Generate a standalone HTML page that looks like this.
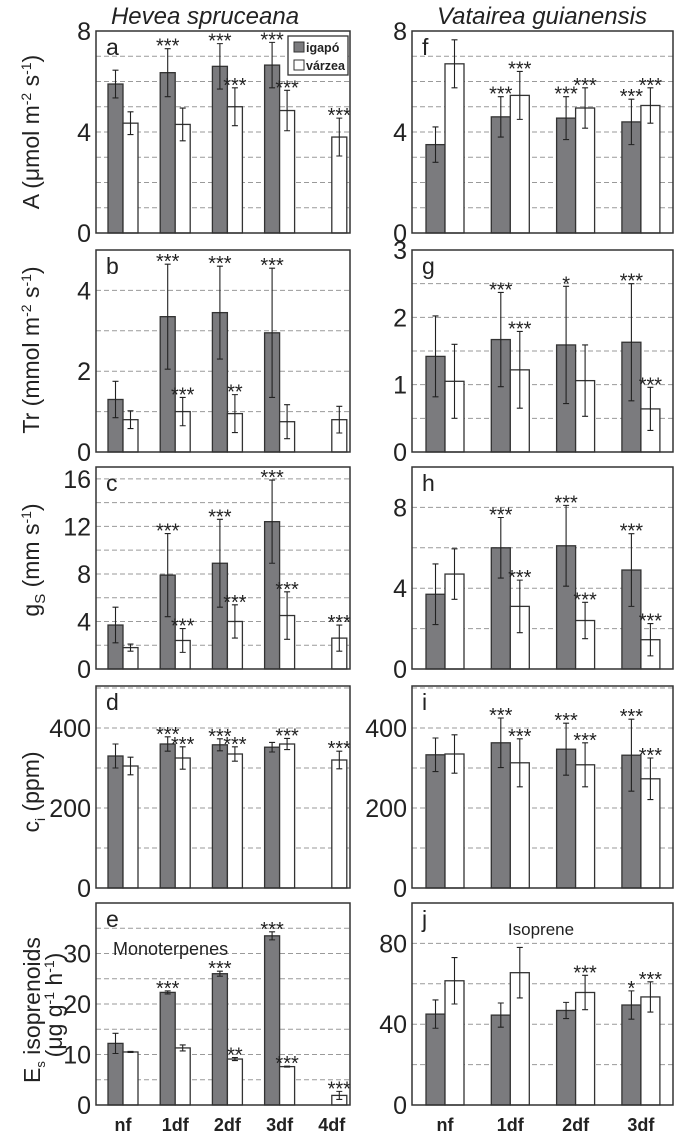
<!DOCTYPE html>
<html><head><meta charset="utf-8"><style>
html,body{margin:0;padding:0;background:#fff;}
svg{display:block;font-family:"Liberation Sans",sans-serif;}
</style></head><body>
<svg id="chart" width="685" height="1141" viewBox="0 0 685 1141" xmlns="http://www.w3.org/2000/svg">
<text x="205" y="24" font-size="24" font-style="italic" text-anchor="middle" fill="#222">Hevea spruceana</text>
<text x="542" y="24" font-size="24" font-style="italic" text-anchor="middle" fill="#222">Vatairea guianensis</text>
</svg>
<script>
// ---- data ----
const categoriesLeft = ["nf","1df","2df","3df","4df"];
const categoriesRight = ["nf","1df","2df","3df"];
const aIgapo=[5.9,6.35,6.6,6.65,null], aIgapoErr=[0.55,0.95,0.9,0.9,null];
const aVarzea=[4.35,4.3,5.0,4.85,3.8], aVarzeaErr=[0.45,0.65,0.75,0.8,0.75];
const bIgapo=[1.3,3.35,3.45,2.95,null], bIgapoErr=[0.45,1.3,1.15,1.6,null];
const bVarzea=[0.8,1.0,0.95,0.75,0.8], bVarzeaErr=[0.22,0.35,0.47,0.42,0.33];
const cIgapo=[3.7,7.9,8.9,12.4,null], cIgapoErr=[1.5,3.5,3.7,3.5,null];
const cVarzea=[1.8,2.4,4.0,4.5,2.6], cVarzeaErr=[0.3,1.0,1.4,2.0,1.1];
const dIgapo=[330,360,358,352,null], dIgapoErr=[30,18,15,12,null];
const dVarzea=[305,325,335,360,320], dVarzeaErr=[22,28,18,14,22];
const eIgapo=[12.2,22.3,26,33.5,null], eIgapoErr=[2.0,0.3,0.5,0.8,null];
const eVarzea=[10.5,11.3,9.1,7.6,1.9], eVarzeaErr=[0.1,0.6,0.3,0.1,0.8];
const fIgapo=[3.5,4.6,4.55,4.4], fIgapoErr=[0.7,0.8,0.85,0.9];
const fVarzea=[6.7,5.45,4.95,5.05], fVarzeaErr=[0.95,0.95,0.8,0.7];
const gIgapo=[1.42,1.67,1.59,1.63], gIgapoErr=[0.6,0.7,0.87,0.87];
const gVarzea=[1.05,1.22,1.06,0.64], gVarzeaErr=[0.55,0.57,0.53,0.32];
const hIgapo=[3.7,6.0,6.1,4.9], hIgapoErr=[1.5,1.5,2.0,1.8];
const hVarzea=[4.7,3.1,2.4,1.45], hVarzeaErr=[1.25,1.3,0.9,0.8];
const iIgapo=[333,363,347,332], iIgapoErr=[42,62,65,90];
const iVarzea=[335,313,308,273], iVarzeaErr=[48,60,55,52];
const jIgapo=[45,44.5,46.8,49.5], jIgapoErr=[7,6,4,7];
const jVarzea=[61.5,65.5,55.7,53.5], jVarzeaErr=[11.5,12.5,8.5,7.5];
const aStarsI=["","***","***","***",""], aStarsV=["","","***","***","***"];
const bStarsI=["","***","***","***",""], bStarsV=["","***","**","",""];
const cStarsI=["","***","***","***",""], cStarsV=["","***","***","***","***"];
const dStarsI=["","***","***","",""], dStarsV=["","***","***","***","***"];
const eStarsI=["","***","***","***",""], eStarsV=["","","**","***","***"];
const fStarsI=["","***","***","***"], fStarsV=["","***","***","***"];
const gStarsI=["","***","*","***"], gStarsV=["","***","","***"];
const hStarsI=["","***","***","***"], hStarsV=["","***","***","***"];
const iStarsI=["","***","***","***"], iStarsV=["","***","***","***"];
const jStarsI=["","","","*"], jStarsV=["","","***","***"];
const aTicks=[0,4,8], bTicks=[0,2,4], cTicks=[0,4,8,12,16], dTicks=[0,200,400], eTicks=[0,10,20,30];
const fTicks=[0,4,8], gTicks=[0,1,2,3], hTicks=[0,4,8], iTicks=[0,200,400], jTicks=[0,40,80];

const NS="http://www.w3.org/2000/svg";
const svg=document.getElementById('chart');
function mk(tag,attrs,parent){const e=document.createElementNS(NS,tag);for(const k in attrs)e.setAttribute(k,attrs[k]);(parent||svg).appendChild(e);return e;}

const rowsTop=[31,250,467,686,903], H=202;
function panel(o){
  const g=mk('g',{});
  
  
  const y=v=>o.top+H-(v/o.max)*H;
  for(let v=o.grid;v<o.max-1e-9;v+=o.grid){
    const gl=mk('line',{x1:o.x0,x2:o.x1,y1:y(v),y2:y(v),stroke:'#9a9a9a','stroke-width':1,'stroke-dasharray':'5,3'},g);
    
    
  }
  o.ticks.forEach(t=>{
    const tx=mk('text',{x:o.x0-5,y:y(t)+9,'font-size':25,'text-anchor':'end',fill:'#222'},g);
    tx.textContent=t;
    
    
  });
  const n=o.cats.length;
  function bar(vals,errs,stars,i,left,fill,name){
    const v=vals[i]; if(v==null) return;
    const c=o.cx0+i*o.step;
    const bx=left?c-o.bw:c;
    const r=mk('rect',{x:bx,y:y(v),width:o.bw,height:o.top+H-y(v),fill:fill,stroke:'#333','stroke-width':1.3},g);
    
    
    const mx=bx+o.bw/2, e=errs[i];
    const eb=mk('path',{d:`M${mx},${y(v-e)}V${y(v+e)}M${mx-3},${y(v-e)}H${mx+3}M${mx-3},${y(v+e)}H${mx+3}`,stroke:'#222','stroke-width':1.1,fill:'none'},g);
    
    
    if(stars[i]){
      const s=mk('text',{x:mx,y:y(v+e)+4,'font-size':20,'text-anchor':'middle',fill:'#222'},g);
      s.textContent=stars[i];
      
      
    }
  }
  for(let i=0;i<n;i++){bar(o.ig,o.igE,o.sI,i,true,'#7b7b7e','bar-igapo');bar(o.va,o.vaE,o.sV,i,false,'#fff','bar-varzea');}
  const fr=mk('rect',{x:o.x0,y:o.top,width:o.x1-o.x0,height:H,fill:'none',stroke:'#333','stroke-width':1.5},g);
  
  
  const lt=mk('text',{x:o.x0+10,y:o.top+24,'font-size':23,fill:'#222'},g);
  lt.textContent=o.letter;
  
  
}
const L={x0:96,x1:350,cx0:123,step:52.2,bw:15,cats:categoriesLeft};
const R={x0:412,x1:673,cx0:445,step:65.3,bw:19,cats:categoriesRight};
panel({...L,top:rowsTop[0],max:8,grid:1,ticks:aTicks,letter:'a',ig:aIgapo,igE:aIgapoErr,va:aVarzea,vaE:aVarzeaErr,sI:aStarsI,sV:aStarsV});
panel({...L,top:rowsTop[1],max:5,grid:1,ticks:bTicks,letter:'b',ig:bIgapo,igE:bIgapoErr,va:bVarzea,vaE:bVarzeaErr,sI:bStarsI,sV:bStarsV});
panel({...L,top:rowsTop[2],max:17,grid:2,ticks:cTicks,letter:'c',ig:cIgapo,igE:cIgapoErr,va:cVarzea,vaE:cVarzeaErr,sI:cStarsI,sV:cStarsV});
panel({...L,top:rowsTop[3],max:505,grid:100,ticks:dTicks,letter:'d',ig:dIgapo,igE:dIgapoErr,va:dVarzea,vaE:dVarzeaErr,sI:dStarsI,sV:dStarsV});
panel({...L,top:rowsTop[4],max:40,grid:5,ticks:eTicks,letter:'e',ig:eIgapo,igE:eIgapoErr,va:eVarzea,vaE:eVarzeaErr,sI:eStarsI,sV:eStarsV});
panel({...R,top:rowsTop[0],max:8,grid:1,ticks:fTicks,letter:'f',ig:fIgapo,igE:fIgapoErr,va:fVarzea,vaE:fVarzeaErr,sI:fStarsI,sV:fStarsV});
panel({...R,top:rowsTop[1],max:3,grid:0.5,ticks:gTicks,letter:'g',ig:gIgapo,igE:gIgapoErr,va:gVarzea,vaE:gVarzeaErr,sI:gStarsI,sV:gStarsV});
panel({...R,top:rowsTop[2],max:10,grid:2,ticks:hTicks,letter:'h',ig:hIgapo,igE:hIgapoErr,va:hVarzea,vaE:hVarzeaErr,sI:hStarsI,sV:hStarsV});
panel({...R,top:rowsTop[3],max:505,grid:100,ticks:iTicks,letter:'i',ig:iIgapo,igE:iIgapoErr,va:iVarzea,vaE:iVarzeaErr,sI:iStarsI,sV:iStarsV});
panel({...R,top:rowsTop[4],max:100,grid:20,ticks:jTicks,letter:'j',ig:jIgapo,igE:jIgapoErr,va:jVarzea,vaE:jVarzeaErr,sI:jStarsI,sV:jStarsV});
categoriesLeft.forEach((c,i)=>{const t=mk('text',{x:L.cx0+i*L.step,y:1131,'font-size':18,'font-weight':'bold','text-anchor':'middle',fill:'#222'});t.textContent=c;

});
categoriesRight.forEach((c,i)=>{const t=mk('text',{x:R.cx0+i*R.step,y:1131,'font-size':18,'font-weight':'bold','text-anchor':'middle',fill:'#222'});t.textContent=c;

});
</script>
<svg style="position:absolute;left:0;top:0" width="685" height="1141">
<g font-family="Liberation Sans, sans-serif" fill="#222">
<text transform="translate(39,132) rotate(-90)" font-size="23" text-anchor="middle">A (μmol m<tspan font-size="14" dy="-8">-2</tspan><tspan dy="8"> s</tspan><tspan font-size="14" dy="-8">-1</tspan><tspan dy="8">)</tspan></text>
<text transform="translate(39,350) rotate(-90)" font-size="23" text-anchor="middle">Tr (mmol m<tspan font-size="14" dy="-8">-2</tspan><tspan dy="8"> s</tspan><tspan font-size="14" dy="-8">-1</tspan><tspan dy="8">)</tspan></text>
<text transform="translate(39,560) rotate(-90)" font-size="23" text-anchor="middle">g<tspan font-size="15" dy="6">S</tspan><tspan dy="-6"> (mm s</tspan><tspan font-size="14" dy="-8">-1</tspan><tspan dy="8">)</tspan></text>
<text transform="translate(39,792) rotate(-90)" font-size="23" text-anchor="middle">c<tspan font-size="14" dy="6">i</tspan><tspan dy="-6"> (ppm)</tspan></text>
<text transform="translate(40,1010) rotate(-90)" font-size="23" text-anchor="middle">E<tspan font-size="13" dy="5">s</tspan><tspan dy="-5"> isoprenoids</tspan></text>
<text transform="translate(62,1005) rotate(-90)" font-size="23" text-anchor="middle">(μg g<tspan font-size="14" dy="-8">-1</tspan><tspan dy="8"> h</tspan><tspan font-size="14" dy="-8">-1</tspan><tspan dy="8">)</tspan></text>
<text x="113" y="955" font-size="18">Monoterpenes</text>
<text x="541" y="935" font-size="17" text-anchor="middle">Isoprene</text>
<g>
<rect x="288" y="36" width="60" height="39" fill="#fff" stroke="#333" stroke-width="1.3"/>
<rect x="294" y="42" width="10" height="10" fill="#7b7b7e" stroke="#333"/>
<text x="306" y="52" font-size="12.5" font-weight="bold">igapó</text>
<rect x="294" y="60" width="10" height="10" fill="#fff" stroke="#333"/>
<text x="306" y="70" font-size="12.5" font-weight="bold">várzea</text>
</g>
</g>
</svg>
</body></html>
